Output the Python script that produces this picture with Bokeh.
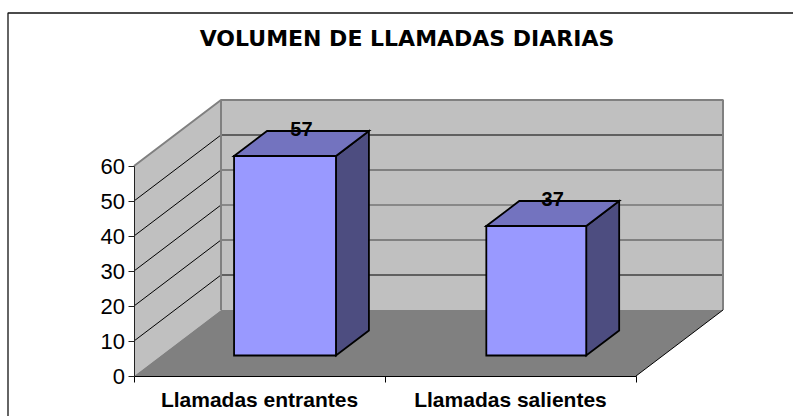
from bokeh.plotting import figure
from bokeh.embed import file_html
from bokeh.resources import INLINE
from bokeh.core.properties import value
from bokeh.models import LinearAxis, FixedTicker, Range1d, BoxAnnotation, Label

title_text = "VOLUMEN DE LLAMADAS DIARIAS"
categories = ["Llamadas entrantes", "Llamadas salientes"]
calls = [57, 37]
y_ticks = [0, 10, 20, 30, 40, 50, 60]
grid_colors = ["#000000", "#404040", "#505050", "#404040", "#000000"]

FONT = "Liberation Sans"
W, H = 793, 416
PX_X = 251.0            # px per category
PX_Y = 3.5              # px per call
X0_PX, Y0_PX = 133.5, 375.5   # canvas position of the origin
DX = 87.0 / PX_X        # depth vector, data units
DY = 66.0 / PX_Y
YMAX = 60
BAR_FRONT, BAR_BACK = 20.5 / 66, 45.5 / 66
BAR_L = [0.291, 1.296]
BAR_W = [0.406, 0.398]


def P(x, v, d=0.0):
    return x + d * DX, v + d * DY


def poly(*pts):
    pp = [P(*q) for q in pts]
    return [a for a, _ in pp], [b for _, b in pp]


ncat = len(categories)
p = figure(
    width=W, height=H, toolbar_location=None, output_backend="svg",
    x_axis_type=None, y_axis_type=None,
    x_range=Range1d(-X0_PX / PX_X, (W - X0_PX) / PX_X),
    y_range=Range1d((Y0_PX - H) / PX_Y, Y0_PX / PX_Y),
    min_border=0,
    background_fill_color="white", border_fill_color="white", outline_line_color=None,
)
p.grid.visible = False

p.add_layout(Label(x=406.5, y=H - 38, x_units="screen", y_units="screen", text=title_text,
                   text_align="center", text_baseline="middle",
                   text_font="DejaVu Sans", text_font_size="22px", text_font_style="bold", text_color="black"))

# border of the chart area
p.add_layout(BoxAnnotation(left=7.5, top=H - 12.5, right=W + 20, bottom=-20,
                           left_units="screen", right_units="screen", top_units="screen", bottom_units="screen",
                           fill_color=None, line_color="#111111", line_alpha=1.0, line_width=1.3, level="underlay"))

# walls and floor
wall = "#C0C0C0"
edge = "#808080"
x, y = poly((0, 0), (0, YMAX), (0, YMAX, 1), (0, 0, 1))
p.patch(x, y, fill_color=wall, line_color=None)
x, y = poly((0, 0, 1), (0, YMAX, 1), (ncat, YMAX, 1), (ncat, 0, 1))
p.patch(x, y, fill_color=wall, line_color=None)
x, y = poly((0, 0), (0, 0, 1), (ncat, 0, 1), (ncat, 0))
p.patch(x, y, fill_color=edge, line_color=None)

# gridlines
for t, c in zip(y_ticks[1:-1], grid_colors):
    x, y = poly((0, t), (0, t, 1))
    p.line(x, y, line_color="black", line_width=1)
    x, y = poly((0, t, 1), (ncat, t, 1))
    p.line(x, y, line_color=c, line_width=1)

# wall outline
x, y = poly((0, YMAX), (0, YMAX, 1), (ncat, YMAX, 1), (ncat, 0, 1))
p.line(x, y, line_color=edge, line_width=2)
x, y = poly((0, 0, 1), (0, YMAX, 1))
p.line(x, y, line_color=edge, line_width=2)
x, y = poly((ncat, 0), (ncat, 0, 1))
p.line(x, y, line_color="black", line_width=1)

# bars
for l, w, v in zip(BAR_L, BAR_W, calls):
    r = l + w
    f, b = BAR_FRONT, BAR_BACK
    kw = dict(line_color="black", line_width=1.8, line_join="miter")
    x, y = poly((r, 0, f), (r, v, f), (r, v, b), (r, 0, b))
    p.patch(x, y, fill_color="#4D4D80", **kw)
    x, y = poly((l, v, f), (l, v, b), (r, v, b), (r, v, f))
    p.patch(x, y, fill_color="#7373BF", **kw)
    x, y = poly((l, 0, f), (l, v, f), (r, v, f), (r, 0, f))
    p.patch(x, y, fill_color="#9999FF", **kw)
    lx, _ = P(l + w / 2, v, 0.5)
    _, ly = P(l + w / 2, v, b)
    p.text([lx], [ly], text=[str(v)], text_align="center", text_baseline="middle", y_offset=-2,
           text_font=value(FONT), text_font_size="20px", text_font_style="bold", text_color="black")

# axes
yax = LinearAxis(fixed_location=0, ticker=FixedTicker(ticks=y_ticks), bounds=(0, YMAX))
yax.major_label_text_font = FONT
yax.major_label_text_font_size = "22px"
yax.major_label_text_color = "black"
yax.major_label_standoff = 3
yax.major_tick_in = 0
yax.major_tick_out = 6
yax.minor_tick_line_color = None
yax.axis_line_color = "#222222"
yax.major_tick_line_color = "#222222"
p.add_layout(yax, "left")

xax = LinearAxis(fixed_location=0, bounds=(0, ncat),
                 ticker=FixedTicker(ticks=[i + 0.5 for i in range(ncat)], minor_ticks=list(range(ncat + 1))))
xax.major_label_overrides = {i + 0.5: c for i, c in enumerate(categories)}
xax.major_label_text_font = FONT
xax.major_label_text_font_size = "21px"
xax.major_label_text_font_style = "bold"
xax.major_label_text_color = "black"
xax.major_label_standoff = 6
xax.major_tick_line_color = None
xax.minor_tick_in = 0
xax.minor_tick_out = 6
xax.minor_tick_line_color = "black"
xax.axis_line_color = "black"
p.add_layout(xax, "below")

open("out.html", "w").write(file_html(p, INLINE))
